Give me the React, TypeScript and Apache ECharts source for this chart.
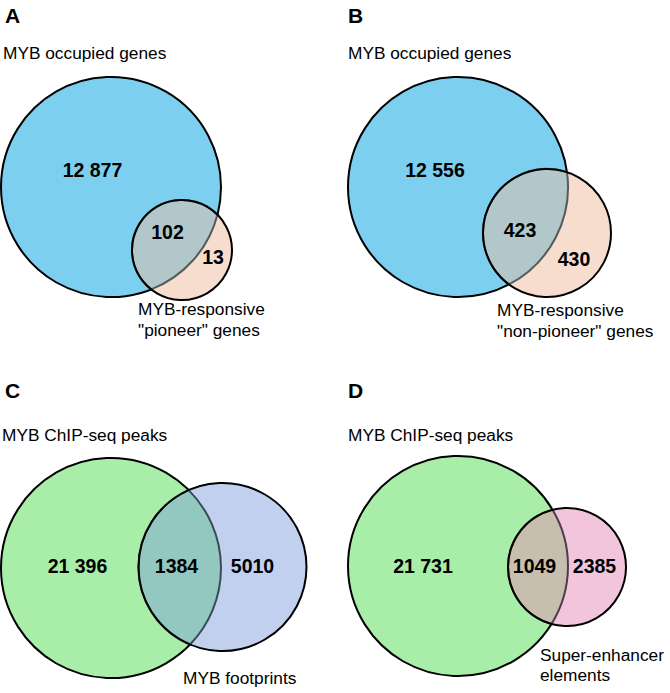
import React, { useEffect, useRef } from "react";
import * as echarts from "echarts";

// ---- data ----
const panelIds = ["A", "B", "C", "D"];
const leftSetNames = [
  "MYB occupied genes",
  "MYB occupied genes",
  "MYB ChIP-seq peaks",
  "MYB ChIP-seq peaks",
];
const rightSetNames = [
  'MYB-responsive\n"pioneer" genes',
  'MYB-responsive\n"non-pioneer" genes',
  "MYB footprints",
  "Super-enhancer\nelements",
];
const leftOnlyCounts = [12877, 12556, 21396, 21731];
const overlapCounts = [102, 423, 1384, 1049];
const rightOnlyCounts = [13, 430, 5010, 2385];

// ---- layout (positions / sizes) ----
const LAYOUT = [
  {
    letter: [5, 15.5], title: [3, 53],
    big: [111, 187, 110], small: [182, 250, 50],
    nums: [[92.5, 170], [167.5, 231.5], [213, 256.5]],
    label: [138, 309],
  },
  {
    letter: [348, 15.5], title: [348, 53],
    big: [458, 187, 110], small: [547, 233, 64],
    nums: [[435, 170], [520, 230], [574, 258.5]],
    label: [497, 310],
  },
  {
    letter: [5, 390.5], title: [2, 435],
    big: [111, 568, 110], small: [222.5, 567, 84],
    nums: [[77.5, 566], [176.5, 566], [252.5, 566]],
    label: [183, 677.5],
  },
  {
    letter: [348, 390.5], title: [348, 435],
    big: [458, 566, 110], small: [567, 567, 59],
    nums: [[423, 566], [534.5, 566], [594.5, 566]],
    label: [540, 654.5],
  },
];

// ---- styles ----
const COLORS = [
  { left: "#7ccfee", right: "#f6ddcd", lens: "#b2c7c9", lensEdge: "#555b5d" },
  { left: "#7ccfee", right: "#f6ddcd", lens: "#b2c7c9", lensEdge: "#555b5d" },
  { left: "#a8eea8", right: "#c1d0ef", lens: "#93c8c0", lensEdge: "#3d4a56" },
  { left: "#a8eea8", right: "#f2c5dc", lens: "#c7bead", lensEdge: "#4a3f4a" },
];
const FONT = "'Liberation Sans', Arial, Helvetica, sans-serif";

function fmt(n: number): string {
  const s = String(n);
  return n >= 10000 ? s.replace(/\B(?=(\d{3})+(?!\d))/g, " ") : s;
}

function lensPath(c1: number[], c2: number[]): string {
  const [x1, y1, r1] = c1;
  const [x2, y2, r2] = c2;
  const dx = x2 - x1, dy = y2 - y1;
  const d = Math.sqrt(dx * dx + dy * dy);
  const ux = dx / d, uy = dy / d;
  const a = (r1 * r1 - r2 * r2 + d * d) / (2 * d);
  const h = Math.sqrt(Math.max(0, r1 * r1 - a * a));
  const px = x1 + a * ux, py = y1 + a * uy;
  const nx = -uy, ny = ux;
  const p1 = [px + h * nx, py + h * ny];
  const p2 = [px - h * nx, py - h * ny];
  const large1 = a < 0 ? 1 : 0;
  const large2 = d - a < 0 ? 1 : 0;
  return (
    `M${p1[0]},${p1[1]} A${r1},${r1} 0 ${large1} 0 ${p2[0]},${p2[1]} ` +
    `A${r2},${r2} 0 ${large2} 0 ${p1[0]},${p1[1]} Z`
  );
}

function textEl(text: string, x: number, y: number, size: number, bold: boolean, align = "left") {
  return {
    type: "text",
    x,
    y,
    style: {
      text,
      fill: "#000",
      fontFamily: FONT,
      fontSize: size,
      fontWeight: bold ? "bold" : "normal",
      align,
      verticalAlign: "middle",
    },
  };
}

export default function App() {
  const ref = useRef<HTMLDivElement>(null);
  useEffect(() => {
    document.body.style.margin = "0";
    if (!ref.current) return;
    const chart = echarts.init(ref.current, null, { renderer: "svg" });
    chart.setOption({
      animation: false,
      backgroundColor: "#ffffff",
      series: [
        {
          type: "custom",
          coordinateSystem: "none",
          data: panelIds.map((_, i) => i),
          silent: true,
          renderItem: (params: any) => {
            const i = params.dataIndex;
            const L = LAYOUT[i];
            const C = COLORS[i];
            const [bx, by, br] = L.big;
            const [sx, sy, sr] = L.small;
            const children: any[] = [];
            children.push({
              type: "circle",
              shape: { cx: bx, cy: by, r: br },
              style: { fill: C.left, stroke: "#000", lineWidth: 2 },
            });
            children.push({
              type: "circle",
              shape: { cx: sx, cy: sy, r: sr },
              style: { fill: C.right, stroke: null },
            });
            children.push({
              type: "path",
              shape: { pathData: lensPath(L.big, L.small) },
              style: { fill: C.lens, stroke: C.lensEdge, lineWidth: 2 },
            });
            children.push({
              type: "circle",
              shape: { cx: sx, cy: sy, r: sr },
              style: { fill: null, stroke: "#000", lineWidth: 2 },
            });
            children.push(textEl(panelIds[i], L.letter[0], L.letter[1], 21, true));
            children.push(textEl(leftSetNames[i], L.title[0], L.title[1], 17.3, false));
            const vals = [leftOnlyCounts[i], overlapCounts[i], rightOnlyCounts[i]];
            vals.forEach((v, k) => {
              children.push(textEl(fmt(v), L.nums[k][0], L.nums[k][1], 19.5, true, "center"));
            });
            rightSetNames[i].split("\n").forEach((line, k) => {
              children.push(textEl(line, L.label[0], L.label[1] + k * 20.5, 17.3, false));
            });
            return { type: "group", children };
          },
        },
      ],
    });
    return () => chart.dispose();
  }, []);
  return <div ref={ref} style={{ width: 670, height: 693 }} />;
}
